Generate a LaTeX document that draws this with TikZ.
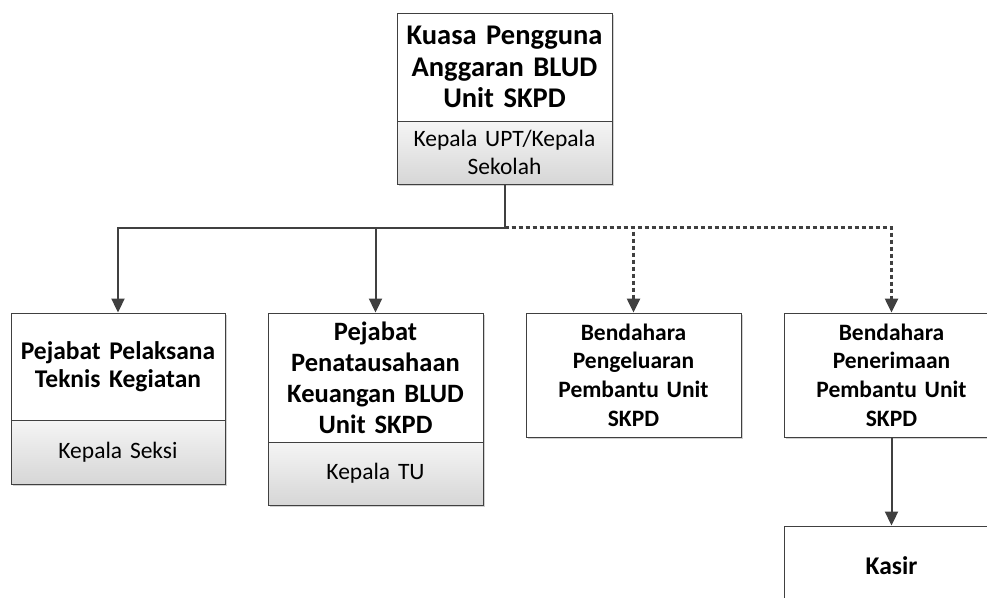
\documentclass[tikz,border=0pt]{standalone}
\usepackage{fontspec}
\setmainfont{Carlito}[WordSpace=0.7]
\usepackage{tikz}
\usetikzlibrary{arrows.meta,shadows}

\definecolor{edge}{HTML}{404040}

\begin{document}
\begin{tikzpicture}[x=1pt, y=-1pt,
  box/.style={rectangle, draw=edge, line width=0.9pt, fill=white, inner sep=0pt,
              minimum width=215pt, text width=210pt, align=center,
              drop shadow={shadow xshift=2pt, shadow yshift=-2pt, opacity=0.18, fill=black}},
  head/.style={box, font=\bfseries\fontsize{28.5}{31.5}\selectfont},
  mid/.style={box, font=\bfseries\fontsize{26.5}{31}\selectfont},
  small/.style={box, font=\bfseries\fontsize{23.5}{28.7}\selectfont},
  sub/.style={box, top color=black!4, bottom color=black!16,
              font=\fontsize{23.5}{28}\selectfont},
  lk/.style={-{Triangle[width=13pt,length=14pt]}, edge, line width=2pt},
  dlk/.style={lk, line width=2.4pt, dash pattern=on 4pt off 3pt}]

\useasboundingbox (0,0) rectangle (987,597);
\clip (0,0) rectangle (987,597);

%% top: the budget authority
\node[head, minimum height=108pt] (kpa) at (504.5,67)
  {Kuasa Pengguna\\Anggaran BLUD\\Unit SKPD};
\node[sub, minimum height=63pt] (kpas) at (504.5,152.5) {Kepala UPT/Kepala\\Sekolah};

%% second row
\node[mid, minimum width=214pt, font=\bfseries\fontsize{25.5}{28}\selectfont,
      minimum height=107pt] (pptk) at (118,366.5) {Pejabat Pelaksana\\Teknis Kegiatan};
\node[sub, minimum width=214pt, minimum height=64pt] (pptks) at (118,452) {Kepala Seksi};

\node[mid, minimum height=129pt] (ppk) at (375.5,377.5)
  {Pejabat\\Penatausahaan\\Keuangan BLUD\\Unit SKPD};
\node[sub, minimum height=63pt] (ppks) at (375.5,473.5) {Kepala TU};

\node[small, minimum height=124pt] (bpp) at (633.5,375)
  {Bendahara\\Pengeluaran\\Pembantu Unit\\SKPD};
\node[small, minimum height=124pt] (bpn) at (891.5,375)
  {Bendahara\\Penerimaan\\Pembantu Unit\\SKPD};

%% bottom
\node[small, font=\bfseries\fontsize{25.5}{30}\selectfont,
      minimum height=80pt] (kasir) at (891.5,566) {Kasir};

%% links
\coordinate (split) at (504.5,227.5);
\draw[lk] (kpas.south) -- (split) -| (pptk.north);
\draw[lk] (split) -| (ppk.north);
\draw[dlk] (split) -| (bpp.north);
\draw[dlk] (split) -| (bpn.north);
\draw[lk] (bpn.south) -- (kasir.north);
\end{tikzpicture}
\end{document}
